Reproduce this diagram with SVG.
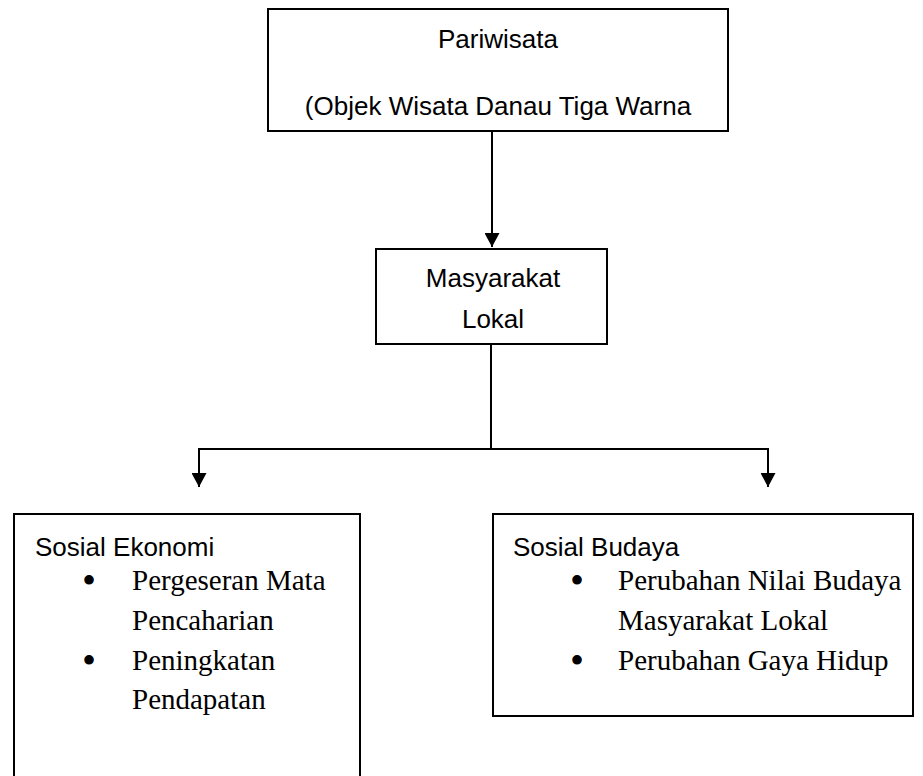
<svg xmlns="http://www.w3.org/2000/svg" width="923" height="776" viewBox="0 0 923 776">
<defs>
<style>
.box{fill:#fff;stroke:#000;stroke-width:2}
.sans{font-family:"Liberation Sans",Arial,sans-serif;font-size:26px;fill:#000}
.serif{font-family:"Liberation Serif","Times New Roman",serif;font-size:29px;fill:#000}
.bul{font-family:"Liberation Serif","Times New Roman",serif;font-size:40px;fill:#000;text-anchor:middle}
.mid{text-anchor:middle}
.con{fill:none;stroke:#000;stroke-width:2}
</style>
<marker id="ah" viewBox="0 0 14 15" refX="14" refY="7.5" markerWidth="14" markerHeight="15" markerUnits="userSpaceOnUse" orient="auto">
<path d="M0,0 L14,7.5 L0,15 z" fill="#000"/>
</marker>
</defs>
<rect width="923" height="776" fill="#fff"/>
<g id="connectors">
<line class="con" x1="492" y1="131" x2="492" y2="247" marker-end="url(#ah)"/>
<line class="con" x1="491" y1="344" x2="491" y2="449"/>
<polyline class="con" points="199,487 199,449 768,449 768,487"/>
<line class="con" x1="199" y1="455" x2="199" y2="487" marker-end="url(#ah)"/>
<line class="con" x1="768" y1="455" x2="768" y2="487" marker-end="url(#ah)"/>
</g>
<g id="pariwisata">
<rect class="box" x="268" y="9" width="460" height="122"/>
<text class="sans mid" x="498" y="48">Pariwisata</text>
<text class="sans mid" x="498" y="115">(Objek Wisata Danau Tiga Warna</text>
</g>
<g id="masyarakat">
<rect class="box" x="376" y="249" width="231" height="95"/>
<text class="sans mid" x="493" y="287">Masyarakat</text>
<text class="sans mid" x="493" y="328">Lokal</text>
</g>
<g id="sosial-ekonomi">
<rect class="box" x="14" y="514" width="346" height="290"/>
<text class="sans" x="35" y="556">Sosial Ekonomi</text>
<text class="bul" x="89" y="594">•</text>
<text class="serif" x="132" y="590">Pergeseran Mata</text>
<text class="serif" x="132" y="630">Pencaharian</text>
<text class="bul" x="89" y="674">•</text>
<text class="serif" x="132" y="670">Peningkatan</text>
<text class="serif" x="132" y="709">Pendapatan</text>
</g>
<g id="sosial-budaya">
<rect class="box" x="493" y="514" width="420" height="202"/>
<text class="sans" x="513" y="556">Sosial Budaya</text>
<text class="bul" x="577" y="594">•</text>
<text class="serif" x="618" y="590">Perubahan Nilai Budaya</text>
<text class="serif" x="618" y="630">Masyarakat Lokal</text>
<text class="bul" x="577" y="674">•</text>
<text class="serif" x="618" y="670">Perubahan Gaya Hidup</text>
</g>
</svg>
